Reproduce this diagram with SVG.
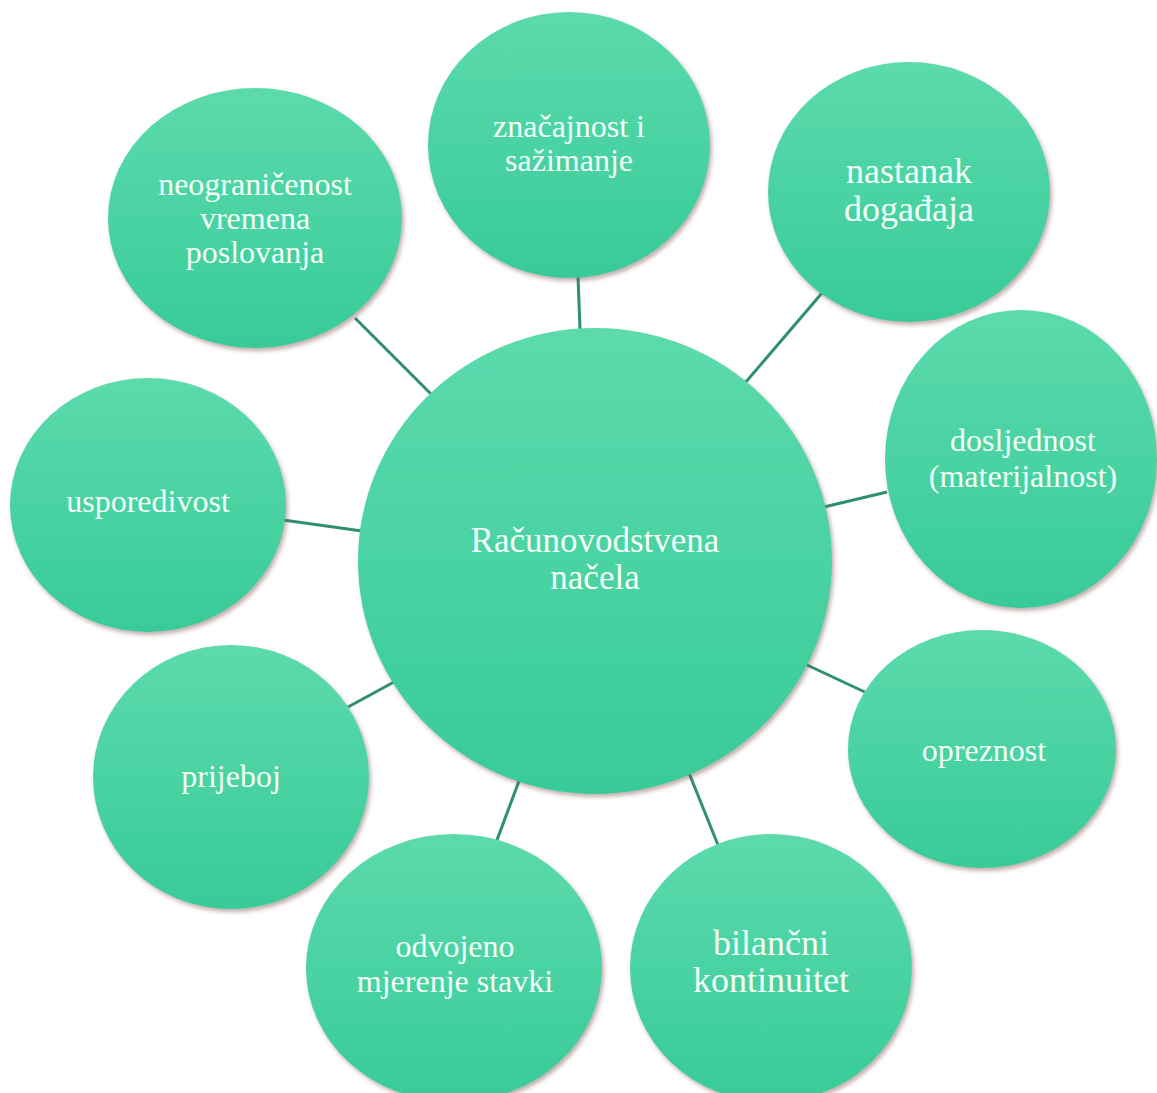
<svg xmlns="http://www.w3.org/2000/svg" width="1157" height="1093" viewBox="0 0 1157 1093">
<defs>
<linearGradient id="g" x1="0" y1="0" x2="0" y2="1">
<stop offset="0" stop-color="#5cdaac"/>
<stop offset="1" stop-color="#38cb99"/>
</linearGradient>
<filter id="sh" x="-10%" y="-10%" width="125%" height="125%">
<feDropShadow dx="2" dy="3" stdDeviation="2" flood-color="#7a4a4a" flood-opacity="0.45"/>
</filter>
<style>
.n{fill:url(#g);filter:url(#sh)}
.t{fill:#f4fff8;text-anchor:middle;font-size:32px}
.b{font-size:36px}
.m{font-size:35px}
.c line{stroke:#2f8f72;stroke-width:3}
</style>
</defs>
<rect width="1157" height="1093" fill="#ffffff"/>
<g class="c" id="connectors">
<line x1="355" y1="318" x2="432" y2="395"/>
<line x1="578" y1="276" x2="580" y2="330"/>
<line x1="822" y1="293" x2="745" y2="383"/>
<line x1="887" y1="492" x2="824" y2="507"/>
<line x1="283" y1="520" x2="362" y2="531"/>
<line x1="348" y1="707" x2="394" y2="682"/>
<line x1="805" y1="664" x2="869" y2="694"/>
<line x1="497" y1="840" x2="519" y2="781"/>
<line x1="718" y1="845" x2="689" y2="773"/>
</g>
<g font-family="Liberation Serif, Times New Roman, serif">
<g id="n-top"><ellipse class="n" cx="569" cy="145" rx="141" ry="133"/>
<text class="t" x="569" y="137">značajnost  i</text><text class="t" x="569" y="171">sažimanje</text></g>
<g id="n-neo"><ellipse class="n" cx="255" cy="218" rx="147" ry="130"/>
<text class="t" x="255" y="195">neograničenost</text><text class="t" x="255" y="229">vremena</text><text class="t" x="255" y="263">poslovanja</text></g>
<g id="n-nas"><ellipse class="n" cx="909" cy="192" rx="141" ry="130"/>
<text class="t b" x="909" y="183">nastanak</text><text class="t b" x="909" y="221">događaja</text></g>
<g id="n-dos"><ellipse class="n" cx="1021" cy="459" rx="136" ry="149"/>
<text class="t" x="1023" y="451">dosljednost</text><text class="t" x="1023" y="487">(materijalnost)</text></g>
<g id="n-usp"><ellipse class="n" cx="148" cy="505" rx="138" ry="127"/>
<text class="t" x="148" y="512">usporedivost</text></g>
<g id="n-pri"><ellipse class="n" cx="231" cy="777" rx="138" ry="132"/>
<text class="t" x="231" y="787">prijeboj</text></g>
<g id="n-opr"><ellipse class="n" cx="982" cy="749" rx="134" ry="119"/>
<text class="t" x="984" y="761">opreznost</text></g>
<g id="n-odv"><ellipse class="n" cx="454" cy="968" rx="148" ry="134"/>
<text class="t" x="455" y="957">odvojeno</text><text class="t" x="455" y="992">mjerenje  stavki</text></g>
<g id="n-bil"><ellipse class="n" cx="771" cy="968" rx="141" ry="134"/>
<text class="t b" x="771" y="955">bilančni</text><text class="t b" x="771" y="992">kontinuitet</text></g>
<g id="n-center"><ellipse class="n" cx="595" cy="561" rx="237" ry="233"/>
<text class="t m" x="595" y="552">Računovodstvena</text><text class="t m" x="595" y="589">načela</text></g>
</g>
</svg>
